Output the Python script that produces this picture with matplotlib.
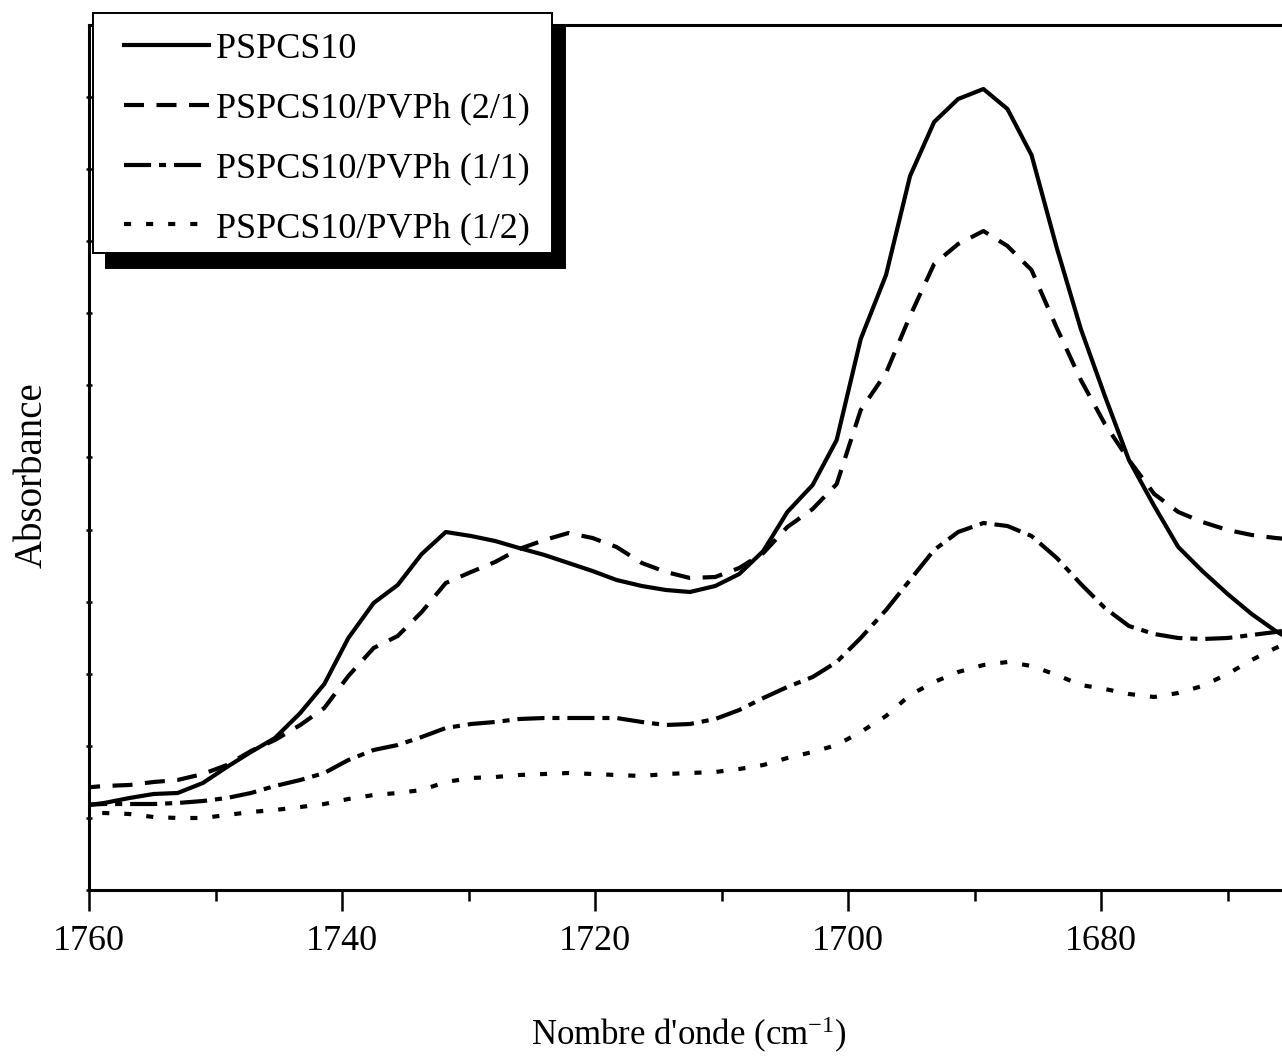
import matplotlib
matplotlib.use("Agg")
import matplotlib.pyplot as plt
from matplotlib.ticker import MultipleLocator
from matplotlib.lines import Line2D
from matplotlib.legend_handler import HandlerLine2D
from matplotlib.transforms import Affine2D

plt.rcParams['font.family'] = ['Liberation Serif', 'DejaVu Serif']
plt.rcParams['mathtext.fontset'] = 'custom'
plt.rcParams['mathtext.rm'] = 'Liberation Serif'
plt.rcParams['mathtext.it'] = 'Liberation Serif:italic'

# FTIR carbonyl region, absorbance in arbitrary units
wavenumber = [1760.7, 1758.8, 1756.8, 1754.9, 1753.0, 1751.0, 1749.1, 1747.2, 1745.3, 1743.3,
              1741.4, 1739.5, 1737.5, 1735.6, 1733.7, 1731.8, 1729.8, 1727.9, 1726.0, 1724.0,
              1722.1, 1720.2, 1718.3, 1716.3, 1714.4, 1712.5, 1710.5, 1708.6, 1706.7, 1704.8,
              1702.8, 1700.9, 1699.0, 1697.0, 1695.1, 1693.2, 1691.3, 1689.3, 1687.4, 1685.5,
              1683.5, 1681.6, 1679.7, 1677.8, 1675.8, 1673.9, 1672.0, 1670.0, 1668.1, 1666.2,
              1664.3]

pspcs10 = [0.084, 0.087, 0.092, 0.096, 0.097, 0.107, 0.123, 0.138, 0.152, 0.177,
           0.206, 0.252, 0.287, 0.305, 0.336, 0.358, 0.354, 0.349, 0.342, 0.335,
           0.327, 0.319, 0.310, 0.304, 0.300, 0.298, 0.304, 0.316, 0.339, 0.378,
           0.405, 0.450, 0.551, 0.615, 0.714, 0.768, 0.791, 0.801, 0.781, 0.735,
           0.642, 0.561, 0.494, 0.430, 0.384, 0.343, 0.319, 0.296, 0.276, 0.259,
           0.245]

pvph_2_1 = [0.102, 0.104, 0.105, 0.108, 0.110, 0.116, 0.125, 0.139, 0.150, 0.165,
            0.182, 0.214, 0.242, 0.254, 0.278, 0.307, 0.318, 0.328, 0.341, 0.350,
            0.357, 0.352, 0.343, 0.327, 0.318, 0.312, 0.313, 0.322, 0.337, 0.363,
            0.381, 0.406, 0.480, 0.517, 0.574, 0.626, 0.646, 0.659, 0.644, 0.620,
            0.562, 0.510, 0.466, 0.430, 0.396, 0.378, 0.368, 0.360, 0.355, 0.352,
            0.350]

pvph_1_1 = [0.085, 0.086, 0.086, 0.086, 0.087, 0.089, 0.092, 0.097, 0.104, 0.110,
            0.117, 0.130, 0.140, 0.145, 0.153, 0.162, 0.166, 0.168, 0.171, 0.172,
            0.172, 0.172, 0.172, 0.168, 0.165, 0.166, 0.171, 0.180, 0.192, 0.203,
            0.213, 0.228, 0.252, 0.280, 0.310, 0.340, 0.358, 0.367, 0.364, 0.354,
            0.332, 0.306, 0.282, 0.264, 0.256, 0.252, 0.251, 0.252, 0.255, 0.258,
            0.262]

pvph_1_2 = [0.077, 0.077, 0.076, 0.073, 0.072, 0.072, 0.075, 0.078, 0.080, 0.083,
            0.086, 0.091, 0.095, 0.097, 0.100, 0.108, 0.112, 0.113, 0.115, 0.116,
            0.117, 0.116, 0.115, 0.114, 0.116, 0.117, 0.118, 0.121, 0.125, 0.132,
            0.138, 0.145, 0.158, 0.174, 0.195, 0.208, 0.218, 0.225, 0.228, 0.224,
            0.215, 0.205, 0.201, 0.196, 0.193, 0.197, 0.204, 0.216, 0.230, 0.242,
            0.252]

labels = ["PSPCS10", "PSPCS10/PVPh (2/1)", "PSPCS10/PVPh (1/1)", "PSPCS10/PVPh (1/2)"]

W, H = 1282, 1059
fig = plt.figure(figsize=(W / 100, H / 100), dpi=100)
ax = fig.add_axes([89 / W, 1 - 890 / H, 1 - 89 / W, 865 / H])

lw = 3
ax.plot(wavenumber, pspcs10, color='black', lw=lw, ls='-', label=labels[0])
ax.plot(wavenumber, pvph_2_1, color='black', lw=lw, ls=(0, (4.8, 3.0)), label=labels[1])
ax.plot(wavenumber, pvph_1_1, color='black', lw=lw, ls=(0, (6.5, 1.9, 1.7, 1.9)), label=labels[2])
ax.plot(wavenumber, pvph_1_2, color='black', lw=lw, ls=(0, (1.7, 3.6)), label=labels[3])

ax.set_xlim(1760, 1665.7)
ax.set_ylim(0, 0.865)

ax.xaxis.set_major_locator(MultipleLocator(20))
ax.xaxis.set_minor_locator(MultipleLocator(10))
ax.yaxis.set_major_locator(MultipleLocator(0.0721))
ax.tick_params(axis='x', which='major', direction='out', length=15, width=1.8,
               labelsize=26, pad=10)
ax.tick_params(axis='x', which='minor', direction='out', length=8, width=1.8)
ax.tick_params(axis='y', which='major', direction='inout', length=5, width=1.8,
               labelleft=False)

for side in ['left', 'top', 'bottom']:
    ax.spines[side].set_linewidth(2.2)
ax.spines['right'].set_visible(False)

ax.set_xlabel("Nombre d'onde (cm$^{-1}$)", fontsize=25)
ax.xaxis.set_label_coords(0.503, -0.144)
ax.set_ylabel("Absorbance", fontsize=28)
ax.yaxis.set_label_coords(-0.032, 0.48)

# extra room left of the legend handles, like the original box
handles, _ = ax.get_legend_handles_labels()
leg = ax.legend(handles, [lab + " " for lab in labels],
                loc='upper left', bbox_to_anchor=(93 / W, 1 - 13 / H),
                bbox_transform=fig.transFigure, fancybox=False,
                shadow={'ox': 9.4, 'oy': -10.8, 'shade': 1.0, 'alpha': 1},
                fontsize=26, handlelength=2.82, handletextpad=0.2,
                labelspacing=0.73, borderpad=0.38, borderaxespad=0,
                edgecolor='black', framealpha=1,
                handler_map={Line2D: HandlerLine2D(xpad=0.47)})
leg.get_frame().set_linewidth(1.4)

# nudge legend rows down a little inside the box (original text is taller)
nudge = Affine2D().translate(0, -6)
for art in list(leg.get_texts()) + list(leg.legend_handles):
    art.set_transform(art.get_transform() + nudge)

fig.savefig("out.png", dpi=100)
